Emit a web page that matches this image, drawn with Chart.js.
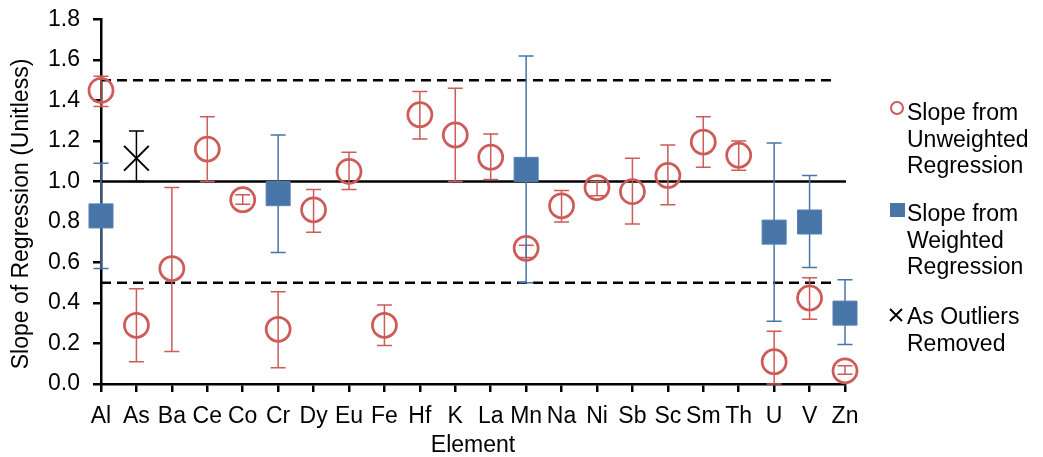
<!DOCTYPE html>
<html>
<head>
<meta charset="utf-8">
<script src="https://cdn.jsdelivr.net/npm/chart.js@4/dist/chart.umd.min.js"></script>
<style>
  html, body { margin: 0; padding: 0; background: #fff; }
  #wrap { position: relative; width: 1043px; height: 457px; }
  canvas { position: absolute; left: 0; top: 0; }
  .leg { position: absolute; left: 907px; font-family: 'Liberation Sans', Arial, sans-serif; font-size: 23px; line-height: 26.5px; color: #000; white-space: nowrap; }
  .mk { position: absolute; }
</style>
</head>
<body>
<div id="wrap">
  <canvas id="c" width="1043" height="457"></canvas>
  <div class="mk" style="left:890px;top:101px;width:10px;height:10px;border:2px solid #CD5B57;border-radius:50%;"></div>
  <div class="leg" style="top:99px;">Slope from<br>Unweighted<br>Regression</div>
  <div class="mk" style="left:890px;top:203px;width:15px;height:14px;background:#4775A7;"></div>
  <div class="leg" style="top:200px;">Slope from<br>Weighted<br>Regression</div>
  <svg class="mk" style="left:888px;top:308px;" width="16" height="14"><path d="M2 1 L14 13 M14 1 L2 13" stroke="#000" stroke-width="2"/></svg>
  <div class="leg" style="top:303px;">As Outliers<br>Removed</div>
</div>
<script>
const elements = ['Al','As','Ba','Ce','Co','Cr','Dy','Eu','Fe','Hf','K','La','Mn','Na','Ni','Sb','Sc','Sm','Th','U','V','Zn'];

const unweighted   = [1.45, 0.29, 0.57, 1.16, 0.91, 0.27, 0.86, 1.05, 0.29, 1.33, 1.23, 1.12, 0.67, 0.88, 0.97, 0.95, 1.03, 1.195, 1.13, 0.11, 0.425, 0.065];
const unweightedHi = [1.52, 0.47, 0.97, 1.32, 0.935, 0.455, 0.96, 1.145, 0.39, 1.445, 1.46, 1.235, 0.685, 0.955, 1.00, 1.115, 1.18, 1.32, 1.20, 0.26, 0.525, 0.09];
const unweightedLo = [1.37, 0.11, 0.16, 1.00, 0.888, 0.08, 0.75, 0.96, 0.19, 1.21, 1.00, 1.01, 0.625, 0.80, 0.93, 0.79, 0.885, 1.07, 1.055, 0.0, 0.32, 0.048];

const weighted   = [0.83, null, null, null, null, 0.94, null, null, null, null, null, null, 1.06, null, null, null, null, null, null, 0.75, 0.80, 0.35];
const weightedHi = [1.09, null, null, null, null, 1.23, null, null, null, null, null, null, 1.62, null, null, null, null, null, null, 1.19, 1.03, 0.515];
const weightedLo = [0.57, null, null, null, null, 0.65, null, null, null, null, null, null, 0.50, null, null, null, null, null, null, 0.31, 0.575, 0.195];

const outlier   = [null, 1.115, null, null, null, null, null, null, null, null, null, null, null, null, null, null, null, null, null, null, null, null];
const outlierHi = [null, 1.25, null, null, null, null, null, null, null, null, null, null, null, null, null, null, null, null, null, null, null, null];
const outlierLo = [null, 1.00, null, null, null, null, null, null, null, null, null, null, null, null, null, null, null, null, null, null, null, null];

const solidLines = [1.0];
const dashedLines = [0.5, 1.5];
const yTitle = 'Slope of Regression (Unitless)';

const RED = '#CD5B57', BLUE = '#4775A7';
const FONT = "'Liberation Sans', Arial, sans-serif";

const refLinesPlugin = {
  id: 'refLines',
  beforeDatasetsDraw(chart) {
    const {ctx, chartArea, scales: {y}} = chart;
    ctx.save();
    ctx.strokeStyle = '#000';
    ctx.lineWidth = 2.5;
    ctx.setLineDash([10, 6]);
    dashedLines.forEach(v => {
      const py = y.getPixelForValue(v);
      ctx.beginPath(); ctx.moveTo(chartArea.left, py); ctx.lineTo(chartArea.right - 8, py); ctx.stroke();
    });
    ctx.setLineDash([]);
    solidLines.forEach(v => {
      const py = y.getPixelForValue(v);
      ctx.beginPath(); ctx.moveTo(chartArea.left, py); ctx.lineTo(chartArea.right + 1, py); ctx.stroke();
    });
    ctx.restore();
  }
};

const errorBarsPlugin = {
  id: 'errorBars',
  beforeDatasetsDraw(chart) {
    const {ctx, scales: {x, y}} = chart;
    chart.data.datasets.forEach(ds => {
      if (!ds.errHi) return;
      ctx.save();
      ctx.strokeStyle = ds.errColor;
      ctx.lineWidth = 1.5;
      ds.data.forEach((v, j) => {
        if (v == null) return;
        const px = x.getPixelForValue(j);
        const yh = y.getPixelForValue(ds.errHi[j]);
        const yl = y.getPixelForValue(ds.errLo[j]);
        ctx.beginPath();
        ctx.moveTo(px, yh); ctx.lineTo(px, yl);
        ctx.moveTo(px - 7.5, yh); ctx.lineTo(px + 7.5, yh);
        ctx.moveTo(px - 7.5, yl); ctx.lineTo(px + 7.5, yl);
        ctx.stroke();
      });
      ctx.restore();
    });
  }
};

const yTitlePlugin = {
  id: 'yTitle',
  afterDraw(chart) {
    const {ctx} = chart;
    ctx.save();
    ctx.translate(22, 214);
    ctx.rotate(-Math.PI / 2);
    ctx.font = '23px ' + FONT;
    ctx.fillStyle = '#000';
    ctx.textAlign = 'center';
    ctx.textBaseline = 'middle';
    ctx.fillText(yTitle, 0, 0);
    ctx.restore();
  }
};

new Chart(document.getElementById('c'), {
  type: 'line',
  data: {
    labels: elements,
    datasets: [
      { label: 'Slope from Unweighted Regression', data: unweighted, errHi: unweightedHi, errLo: unweightedLo, errColor: RED,
        showLine: false, pointStyle: 'circle', pointRadius: 12, pointBorderWidth: 2.75,
        pointBorderColor: RED, pointBackgroundColor: 'rgba(0,0,0,0)', clip: false },
      { label: 'Slope from Weighted Regression', data: weighted, errHi: weightedHi, errLo: weightedLo, errColor: BLUE,
        showLine: false, pointStyle: 'rect', pointRadius: 17, pointBorderWidth: 1,
        pointBorderColor: '#5581B4', pointBackgroundColor: BLUE, clip: false },
      { label: 'As Outliers Removed', data: outlier, errHi: outlierHi, errLo: outlierLo, errColor: '#000',
        showLine: false, pointStyle: 'crossRot', pointRadius: 17.5, pointBorderWidth: 2,
        pointBorderColor: '#000', pointBackgroundColor: '#000', clip: false }
    ]
  },
  options: {
    responsive: false,
    animation: false,
    devicePixelRatio: 1,
    layout: { padding: { top: 19, right: 198, left: 0, bottom: 0 } },
    plugins: { legend: { display: false }, tooltip: { enabled: false } },
    scales: {
      x: {
        type: 'category',
        offset: false,
        afterFit: s => { s.height = 73; },
        grid: { display: true, drawOnChartArea: false, drawTicks: true, tickLength: 8, color: '#000', lineWidth: 2.5, offset: false },
        border: { display: true, color: '#000', width: 2.5 },
        ticks: { color: '#000', font: { family: FONT, size: 23 }, padding: 11, autoSkip: false, maxRotation: 0 },
        title: { display: true, text: 'Element', color: '#000', font: { family: FONT, size: 23, lineHeight: 1 }, padding: { top: -2, bottom: 0 } }
      },
      y: {
        min: 0, max: 1.8,
        afterFit: s => { s.width = 101; s.paddingTop = 0; s.paddingBottom = 0; },
        grid: { display: true, drawOnChartArea: false, drawTicks: true, tickLength: 8, color: '#000', lineWidth: 2.5 },
        border: { display: true, color: '#000', width: 2.5 },
        ticks: { stepSize: 0.2, color: '#000', font: { family: FONT, size: 23 }, padding: 13, callback: v => v.toFixed(1) },
        title: { display: false }
      }
    }
  },
  plugins: [refLinesPlugin, errorBarsPlugin, yTitlePlugin]
});
</script>
</body>
</html>
